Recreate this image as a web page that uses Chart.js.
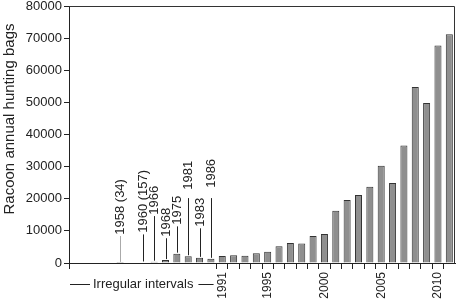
<!DOCTYPE html>
<html>
<head>
<meta charset="utf-8">
<script src="https://cdn.jsdelivr.net/npm/chart.js@4"></script>
<style>
  html, body { margin: 0; padding: 0; background: #fff; }
  #grafico { display: block; }
</style>
</head>
<body>
<canvas id="grafico" width="458" height="302"></canvas>
<script>
// categorias: 4 vazias no início, depois anos irregulares e 1991-2011
const categorias = ["", "", "", "", "1958", "", "1960", "1966", "1968", "1975", "1981", "1983", "1986",
  "1991", "1992", "1993", "1994", "1995", "1996", "1997", "1998", "1999", "2000",
  "2001", "2002", "2003", "2004", "2005", "2006", "2007", "2008", "2009", "2010", "2011"];

const abates = [null, null, null, null, 34, null, 157, 400, 900, 2900, 2100, 1600, 1300,
  2200, 2450, 2250, 3000, 3500, 5200, 6200, 6100, 8400, 9000,
  16300, 19600, 21200, 23700, 30300, 24900, 36600, 54800, 49800, 67700, 71200];

const anosMostrados = ["1991", "1995", "2000", "2005", "2010"];

// anotações dos anos irregulares
const notasAnos = ["1958", "1960", "1966", "1968", "1975", "1981", "1983", "1986"];
const notasTexto = ["1958 (34)", "1960 (157)", "1966", "1968", "1975", "1981", "1983", "1986"];
const notasTextoEm = [8800, 9400, 15000, 8200, 11900, 22800, 11300, 23400];
const notasLinhaAte = [8400, 8900, 14600, 7700, 11400, 20200, 10800, 20200];

const fonte = "'Liberation Sans', Arial, sans-serif";

const anotacoes = {
  id: "anotacoes",
  afterDraw(chart) {
    const { ctx, chartArea, scales } = chart;
    const x = scales.x;
    const y = scales.y;
    ctx.save();

    // moldura superior e direita
    ctx.strokeStyle = "#333";
    ctx.lineWidth = 1;
    ctx.beginPath();
    ctx.moveTo(chartArea.left, chartArea.top + 0.5);
    ctx.lineTo(chartArea.right - 0.5, chartArea.top + 0.5);
    ctx.lineTo(chartArea.right - 0.5, chartArea.bottom);
    ctx.stroke();

    // linhas e rótulos dos anos irregulares
    ctx.font = "13px " + fonte;
    ctx.fillStyle = "#222";
    notasAnos.forEach((ano, i) => {
      const idx = categorias.indexOf(ano);
      const px = Math.round(x.getPixelForValue(idx)) + 0.5;
      const base = y.getPixelForValue(abates[idx] || 0) - 1;
      const topo = y.getPixelForValue(notasLinhaAte[i]);
      ctx.strokeStyle = i === 0 ? "#aaa" : "#222";
      ctx.beginPath();
      ctx.moveTo(px, base);
      ctx.lineTo(px, topo);
      ctx.stroke();

      ctx.save();
      ctx.translate(px, y.getPixelForValue(notasTextoEm[i]));
      ctx.rotate(-Math.PI / 2);
      ctx.textAlign = "left";
      ctx.textBaseline = "middle";
      ctx.fillText(notasTexto[i], 0, 0);
      ctx.restore();
    });

    // "Irregular intervals"
    const slot = x.getPixelForValue(14) - x.getPixelForValue(13);
    const limite = x.getPixelForValue(13) - slot / 2;
    const yLinha = 284.5;
    ctx.font = "13px " + fonte;
    ctx.textAlign = "left";
    ctx.textBaseline = "middle";
    const inicioTexto = chartArea.left + 24;
    const largura = ctx.measureText("Irregular intervals").width;
    ctx.fillText("Irregular intervals", inicioTexto, yLinha);
    ctx.strokeStyle = "#222";
    ctx.beginPath();
    ctx.moveTo(chartArea.left + 1, yLinha);
    ctx.lineTo(chartArea.left + 21, yLinha);
    ctx.moveTo(inicioTexto + largura + 5, yLinha);
    ctx.lineTo(limite - 3, yLinha);
    ctx.stroke();

    // título do eixo y
    ctx.save();
    ctx.translate(10, 119);
    ctx.rotate(-Math.PI / 2);
    ctx.textAlign = "center";
    ctx.textBaseline = "middle";
    ctx.font = "15px " + fonte;
    ctx.fillText("Racoon annual hunting bags", 0, 0);
    ctx.restore();

    ctx.restore();
  }
};

const grafico = new Chart(document.getElementById("grafico"), {
  type: "bar",
  data: {
    labels: categorias,
    datasets: [
      {
        label: "Racoon annual hunting bags",
        data: abates,
        backgroundColor: "#8f8f8f",
        borderColor: "#333",
        borderWidth: 1,
        barPercentage: 0.62,
        categoryPercentage: 1,
      },
    ],
  },
  options: {
    responsive: false,
    animation: false,
    layout: { padding: { top: 6, right: 3, bottom: 0, left: 0 } },
    plugins: {
      legend: { display: false },
      tooltip: { enabled: false },
    },
    scales: {
      x: {
        offset: true,
        grid: {
          offset: true,
          drawOnChartArea: false,
          tickLength: 6,
          tickColor: (ctx) => (ctx.index >= 13 || ctx.index === 0 ? "#222" : "rgba(0,0,0,0)"),
        },
        border: { color: "#222", width: 1 },
        ticks: {
          autoSkip: false,
          maxRotation: 90,
          minRotation: 90,
          padding: 3,
          color: "#222",
          font: { family: fonte, size: 12 },
          callback: (v, i) => (anosMostrados.includes(categorias[i]) ? categorias[i] : ""),
        },
        afterFit: (scale) => {
          scale.height = 39;
          scale.paddingLeft = 0;
          scale.paddingRight = 0;
        },
      },
      y: {
        min: 0,
        max: 80000,
        grid: { drawOnChartArea: false, tickLength: 5, tickColor: "#222" },
        border: { color: "#222", width: 1 },
        ticks: {
          stepSize: 10000,
          padding: 2,
          color: "#222",
          font: { family: fonte, size: 13 },
          callback: (v) => String(v),
        },
        afterFit: (scale) => {
          scale.width = 69;
          scale.paddingTop = 0;
          scale.paddingBottom = 0;
        },
      },
    },
  },
  plugins: [anotacoes],
});
</script>
</body>
</html>
